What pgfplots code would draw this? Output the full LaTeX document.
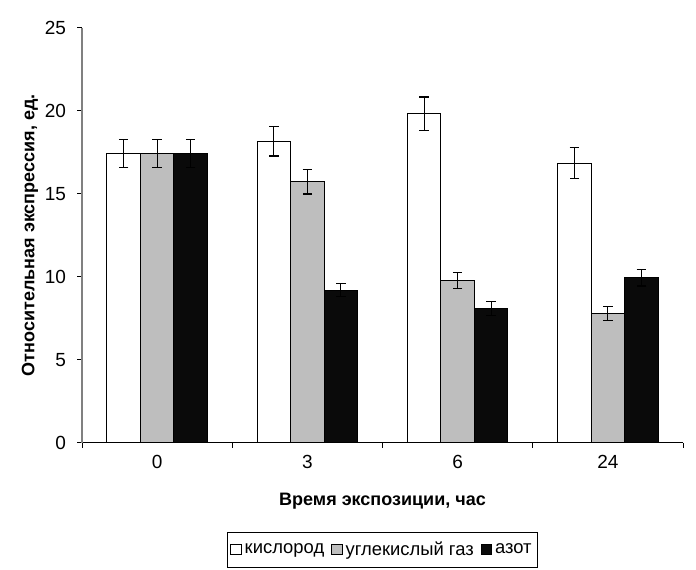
\documentclass[border=0pt]{standalone}
\usepackage{fontspec}
\setmainfont{Liberation Sans}
\usepackage{pgfplots}
\pgfplotsset{compat=1.18}
\definecolor{bargray}{HTML}{BEBEBE}
\definecolor{barblack}{HTML}{0A0A0A}
\definecolor{axgray}{HTML}{808080}
\pgfplotsset{
  mylegend/.style={legend image code/.code={\draw[##1, line width=0.5pt] (0pt,-2.6pt) rectangle (5.2pt,2.6pt);}},
  myerr/.style={error bars/.cd, y dir=both, y explicit,
    error bar style={black, line width=0.6pt},
    error mark options={rotate=90, black, line width=0.6pt, mark size=2.4pt}},
}
\begin{document}
\begin{tikzpicture}
\begin{axis}[
  scale only axis, width=300.5pt, height=207.35pt,
  ybar=0pt, bar width=16.75pt,
  xmin=-0.5, xmax=3.5, ymin=0, ymax=25,
  axis lines*=left,
  x axis line style={black, line width=0.6pt},
  y axis line style={axgray, line width=0.6pt},
  xtick={0,1,2,3}, xticklabels={0,3,6,24},
  minor xtick={-0.5,0.5,1.5,2.5,3.5},
  ytick={0,5,10,15,20,25},
  tick align=outside, major tick length=2.5pt, minor tick length=2.5pt,
  major x tick style={draw=none},
  tick style={black, line width=0.5pt},
  /pgf/number format/assume math mode=true,
  ticklabel style={font=\fontsize{9.5}{10}\selectfont},
  yticklabel style={xshift=-2pt},
  xlabel={Время экспозиции, час},
  ylabel={Относительная экспрессия, ед.},
  label style={font=\bfseries\fontsize{9}{10}\selectfont},
  xlabel style={at={(axis description cs:0.5,-0.14)}, anchor=center},
  ylabel style={at={(axis description cs:-0.0865,0.5)}, anchor=center},
  legend style={at={(0.5,-0.215)}, anchor=north, legend columns=3,
    draw=black, line width=0.6pt, font=\fontsize{9.2}{10}\selectfont,
    inner xsep=1.5pt, inner ysep=2.5pt,
    nodes={inner xsep=1.5pt},
    /tikz/every even column/.append style={column sep=2pt}},
  legend cell align=left,
]
\addplot[mylegend, draw=black, line width=0.5pt, fill=white, myerr] coordinates {
  (0,17.43) +- (0,0.83)
  (1,18.18) +- (0,0.90)
  (2,19.84) +- (0,1.00)
  (3,16.85) +- (0,0.94)
};
\addplot[mylegend, draw=black, line width=0.5pt, fill=bargray, myerr] coordinates {
  (0,17.43) +- (0,0.83)
  (1,15.74) +- (0,0.75)
  (2,9.77) +- (0,0.48)
  (3,7.78) +- (0,0.42)
};
\addplot[mylegend, draw=black, line width=0.5pt, fill=barblack, myerr] coordinates {
  (0,17.43) +- (0,0.83)
  (1,9.19) +- (0,0.40)
  (2,8.08) +- (0,0.42)
  (3,9.95) +- (0,0.50)
};
\legend{кислород, углекислый газ, азот}
\coordinate (BL) at (rel axis cs:0,0);
\coordinate (TR) at (rel axis cs:1,1);
\end{axis}
\path ([shift={(-41pt,-63.15pt)}]BL) rectangle ([shift={(6.5pt,14pt)}]TR);
\end{tikzpicture}
\end{document}
